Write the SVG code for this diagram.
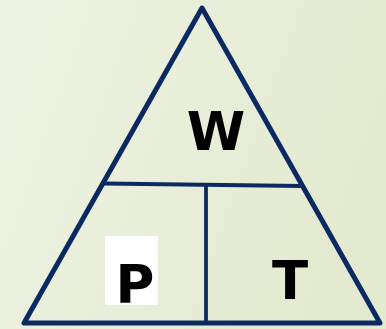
<svg xmlns="http://www.w3.org/2000/svg" width="386" height="329" viewBox="0 0 386 329">
<defs>
<linearGradient id="bg" x1="0" y1="0" x2="1" y2="0.3">
<stop offset="0" stop-color="#eef3e4"/>
<stop offset="1" stop-color="#e3eacf"/>
</linearGradient>
<style>
.edge{fill:none;stroke:#0c2a62;stroke-linejoin:round;stroke-linecap:round}
.lbl{font-family:"DejaVu Sans",Verdana,sans-serif;font-weight:bold;font-size:53px;fill:#000;text-anchor:middle}
</style>
</defs>
<rect width="386" height="329" fill="url(#bg)"/>
<g id="connectors">
<path class="edge" stroke-width="5" d="M202,8 L24,323 L380,323 Z"/>
<path class="edge" stroke-width="3.8" stroke="#17325f" d="M104,183.5 L302,186"/>
<path class="edge" stroke-width="3.8" d="M206,186 L206,322"/>
</g>
<g id="node-W">
<text class="lbl" x="216" y="150">W</text>
</g>
<g id="node-P">
<rect x="105" y="236" width="53" height="69" fill="#ffffff"/>
<text class="lbl" x="135" y="303">P</text>
</g>
<g id="node-T">
<text class="lbl" x="290" y="299">T</text>
</g>
</svg>
